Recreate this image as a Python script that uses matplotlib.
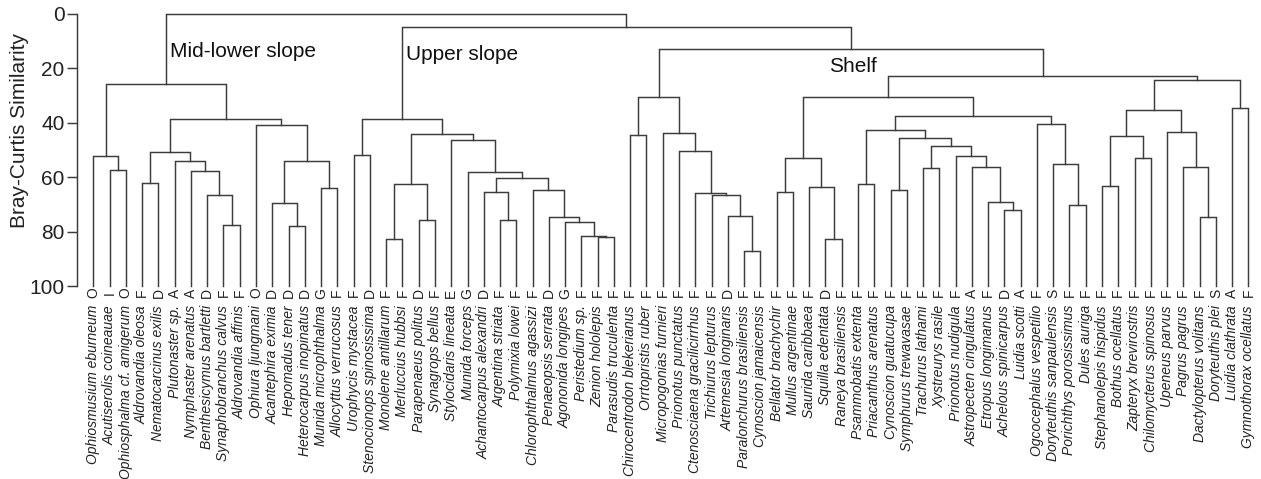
import matplotlib
matplotlib.use('Agg')
import matplotlib.pyplot as plt

plt.rcParams['font.family'] = ['Liberation Sans', 'DejaVu Sans']

# leaf order as drawn, left to right
species = ['Ophiosmusium eburneum', 'Acutiserolis coineauae', 'Ophiosphalma cf. amigerum',
           'Aldrovandia oleosa', 'Nematocarcinus exilis', 'Plutonaster sp.',
           'Nymphaster arenatus', 'Benthesicymus bartletti', 'Synaphobranchus calvus',
           'Aldrovandia affinis', 'Ophiura ljungmani', 'Acantephira eximia',
           'Hepomadus tener', 'Heterocarpus inopinatus', 'Munida microphthalma',
           'Allocyttus verrucosus', 'Urophycis mystacea', 'Stenocionops spinosissima',
           'Monolene antillarum', 'Merluccius hubbsi', 'Parapenaeus politus',
           'Synagrops bellus', 'Stylocidaris lineata', 'Munida forceps',
           'Achantocarpus alexandri', 'Argentina striata', 'Polymixia lowei',
           'Chlorophthalmus agassizi', 'Penaeopsis serrata', 'Agononida longipes',
           'Peristedium sp.', 'Zenion hololepis', 'Parasudis truculenta',
           'Chirocentrodon blekerianus', 'Orrtopristis ruber', 'Micropogonias furnieri',
           'Prionotus punctatus', 'Ctenosciaena gracilicirrhus', 'Trichiurus lepturus',
           'Artemesia longinaris', 'Paralonchurus brasiliensis', 'Cynoscion jamaicensis',
           'Bellator brachychir', 'Mullus argentinae', 'Saurida caribbaea',
           'Squilla edentata', 'Raneya brasiliensis', 'Psammobatis extenta',
           'Priacanthus arenatus', 'Cynoscion guatucupa', 'Symphurus trewavasae',
           'Trachurus lathami', 'Xystreurys rasile', 'Prionotus nudigula',
           'Astropecten cingulatus', 'Etropus longimanus', 'Achelous spinicarpus',
           'Luidia scotti', 'Ogcocephalus vespetilio', 'Doryteuthis sanpaulensis',
           'Porichthys porosissimus', 'Dules auriga', 'Stephanolepis hispidus',
           'Bothus ocellatus', 'Zapteryx brevirostris', 'Chilomycterus spinosus',
           'Upeneus parvus', 'Pagrus pagrus', 'Dactylopterus volitans',
           'Doryteuthis plei', 'Luidia clathrata', 'Gymnothorax ocellatus']

groups = ['O', 'I', 'O', 'F', 'D', 'A', 'A', 'D', 'F', 'F', 'O', 'D', 'D', 'D', 'G', 'F',
          'F', 'D', 'F', 'F', 'D', 'F', 'E', 'G', 'D', 'F', 'F', 'F', 'D', 'G', 'F', 'F',
          'F', 'F', 'F', 'F', 'F', 'F', 'F', 'D', 'F', 'F', 'F', 'F', 'F', 'D', 'F', 'F',
          'F', 'F', 'F', 'F', 'F', 'F', 'A', 'F', 'D', 'A', 'F', 'S', 'F', 'F', 'F', 'F',
          'F', 'F', 'F', 'F', 'F', 'S', 'A', 'F']

# merges: node -> (child, child, similarity). ints are leaf numbers (1-based)
merges = {
    # mid-lower slope
    'a23': (2, 3, 57.5), 'a13': (1, 'a23', 52.3),
    'a45': (4, 5, 62.2), 'a910': (9, 10, 77.5), 'a810': (8, 'a910', 66.5),
    'a710': (7, 'a810', 57.6), 'a610': (6, 'a710', 54.1), 'a410': ('a45', 'a610', 50.8),
    'a1314': (13, 14, 77.9), 'a1214': (12, 'a1314', 69.6), 'a1516': (15, 16, 64.0),
    'a1216': ('a1214', 'a1516', 54.2), 'a1116': (11, 'a1216', 40.7),
    'a416': ('a410', 'a1116', 38.5), 'mid': ('a13', 'a416', 25.6),
    # upper slope
    'b1718': (17, 18, 52.0), 'b1920': (19, 20, 82.9), 'b2122': (21, 22, 75.8),
    'b1922': ('b1920', 'b2122', 62.5), 'b3233': (32, 33, 82.0), 'b3133': (31, 'b3233', 81.5),
    'b3033': (30, 'b3133', 76.6), 'b2933': (29, 'b3033', 74.5), 'b2833': (28, 'b2933', 64.6),
    'b2627': (26, 27, 75.6), 'b2527': (25, 'b2627', 65.6), 'b2533': ('b2527', 'b2833', 60.4),
    'b2433': (24, 'b2533', 58.2), 'b2333': (23, 'b2433', 46.5),
    'b1933': ('b1922', 'b2333', 44.0), 'up': ('b1718', 'b1933', 38.5),
    # shelf
    'c3435': (34, 35, 44.5), 'c4142': (41, 42, 87.3), 'c4042': (40, 'c4142', 74.2),
    'c3942': (39, 'c4042', 66.5), 'c3842': (38, 'c3942', 65.8), 'c3742': (37, 'c3842', 50.4),
    'c3642': (36, 'c3742', 43.7), 'c3442': ('c3435', 'c3642', 30.5),
    'c4344': (43, 44, 65.6), 'c4647': (46, 47, 82.7), 'c4547': (45, 'c4647', 63.5),
    'c4347': ('c4344', 'c4547', 52.9),
    'c4849': (48, 49, 62.6), 'c5051': (50, 51, 64.7), 'c5253': (52, 53, 56.6),
    'c5758': (57, 58, 72.0), 'c5658': (56, 'c5758', 69.0), 'c5558': (55, 'c5658', 56.1),
    'c5458': (54, 'c5558', 52.3), 'c5258': ('c5253', 'c5458', 48.7),
    'c5058': ('c5051', 'c5258', 45.5), 'c4858': ('c4849', 'c5058', 42.6),
    'c6162': (61, 62, 70.2), 'c6062': (60, 'c6162', 55.1), 'c5962': (59, 'c6062', 40.6),
    'c4862': ('c4858', 'c5962', 37.5), 'c4362': ('c4347', 'c4862', 30.5),
    'c6364': (63, 64, 63.3), 'c6566': (65, 66, 53.0), 'c6366': ('c6364', 'c6566', 45.0),
    'c6970': (69, 70, 74.8), 'c6870': (68, 'c6970', 56.1), 'c6770': (67, 'c6870', 43.2),
    'c6370': ('c6366', 'c6770', 35.2), 'c7172': (71, 72, 34.6),
    'c6372': ('c6370', 'c7172', 24.1), 'c4372': ('c4362', 'c6372', 22.9),
    'shelf': ('c3442', 'c4372', 13.0),
    'us': ('up', 'shelf', 4.7),
    'root': ('mid', 'us', 0.0),
}

cluster_names = ['Mid-lower slope', 'Upper slope', 'Shelf']
cluster_pos = [(4.7, 15.9), (19.2, 16.9), (45.2, 21.2)]

assert len(species) == len(groups) == 72

LINE = '#3c3c3c'


def draw(ax, node):
    # returns (x, height) of the node, drawing its links on the way
    if isinstance(node, int):
        return node - 1, 100.0
    a, b, h = merges[node]
    xa, ha = draw(ax, a)
    xb, hb = draw(ax, b)
    ax.plot([xa, xa, xb, xb], [ha, h, h, hb], color=LINE, lw=1.05,
            solid_joinstyle='miter', clip_on=False)
    return (xa + xb) / 2.0, h


fig = plt.figure(figsize=(12.61, 4.79), dpi=100)
ax = fig.add_axes([0.0611, 0.4029, 0.9354, 0.5679])

draw(ax, 'root')

ax.set_xlim(-1, 71.5)
ax.set_ylim(100, 0)
for s in ['top', 'right', 'bottom']:
    ax.spines[s].set_visible(False)
ax.spines['left'].set_color(LINE)
ax.spines['left'].set_linewidth(1.05)
ax.set_xticks([])
ax.set_yticks([0, 20, 40, 60, 80, 100])
ax.tick_params(axis='y', length=7, width=1.05, color=LINE, labelsize=15,
               labelcolor='#222222', pad=2)

fig.text(20 / 1261, 1 - 130 / 479, 'Bray-Curtis Similarity', rotation=90,
         ha='center', va='center', fontsize=15, color='#222222')

for i in range(len(species)):
    ax.text(i, 102.6, groups[i], rotation=90, ha='center', va='center',
            fontsize=10, color='#222222')
    ax.text(i, 107.0, species[i], rotation=90, ha='center', va='top',
            fontsize=10, style='italic', color='#222222')

for name, (x, y) in zip(cluster_names, cluster_pos):
    ax.text(x, y, name, ha='left', va='baseline', fontsize=15, color='#111111')

fig.savefig('out.png', dpi=100)
